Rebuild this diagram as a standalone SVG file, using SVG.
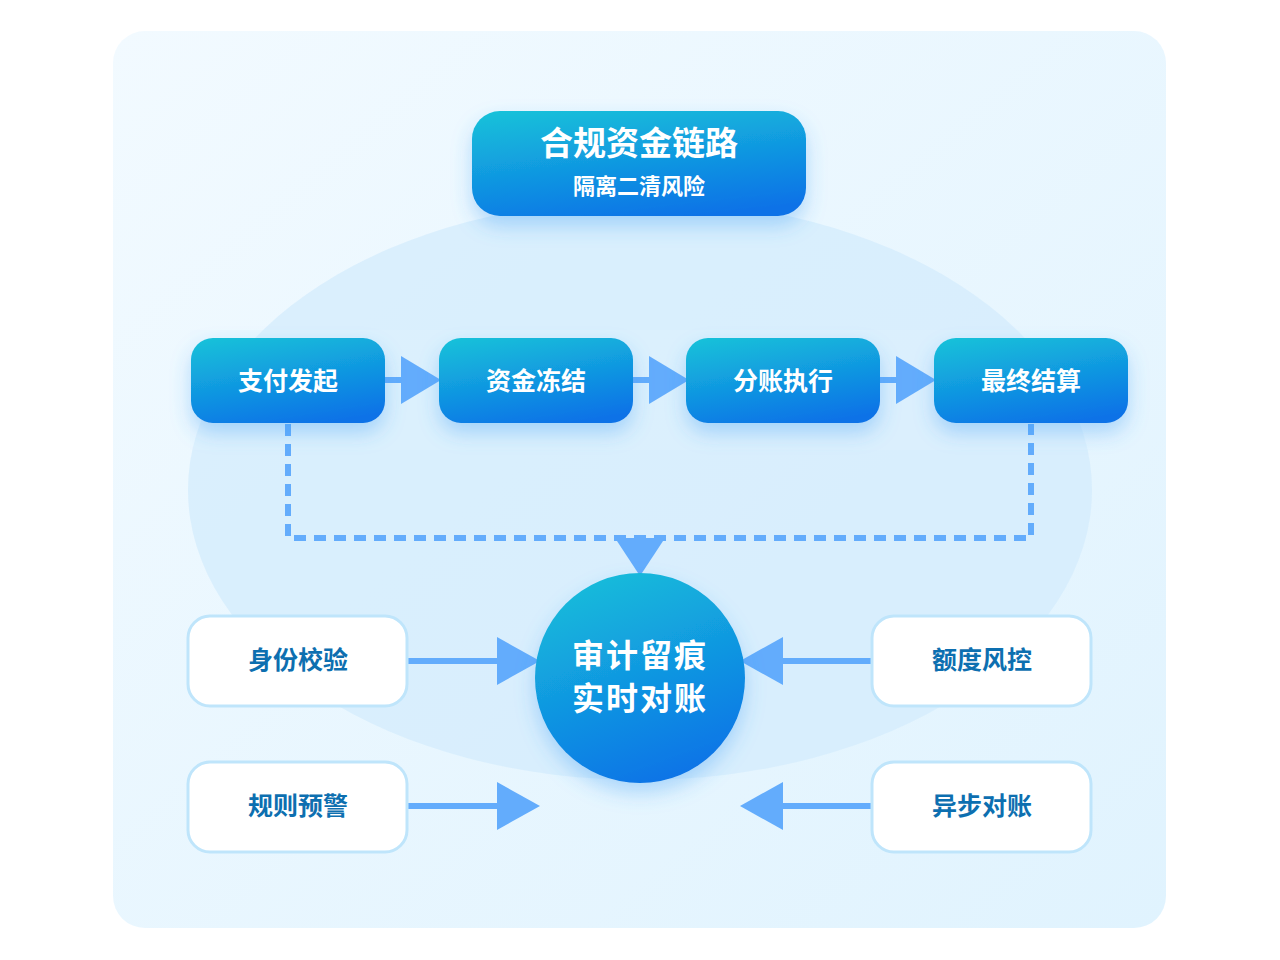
<svg xmlns="http://www.w3.org/2000/svg" width="1280" height="960" viewBox="0 0 1280 960">
<defs>
<linearGradient id="bg" x1="0" y1="0" x2="1" y2="1"><stop offset="0" stop-color="#f2faff"/><stop offset="1" stop-color="#e0f3fe"/></linearGradient>
<linearGradient id="ng" x1="0" y1="0" x2="0.4" y2="1.1"><stop offset="0" stop-color="#17c3d9"/><stop offset="1" stop-color="#0b72e7"/></linearGradient>
<filter id="sh" x="-30%" y="-30%" width="160%" height="180%"><feDropShadow dx="0" dy="10" stdDeviation="10" flood-color="#3d9cf5" flood-opacity="0.35"/></filter>
<style>
.n{fill:url(#ng);filter:url(#sh)}
.w{fill:#fff;stroke:#bfe5fb;stroke-width:3}
.t{font-family:"Noto Sans CJK SC",sans-serif;font-weight:700;fill:#fff;text-anchor:middle}
.d{font-family:"Noto Sans CJK SC",sans-serif;font-weight:700;fill:#0d6fb0;text-anchor:middle;font-size:25px}
.l{stroke:#63acfc;stroke-width:6;fill:none}
.h{fill:#63acfc}
</style>
</defs>
<rect x="113" y="31" width="1053" height="897" rx="32" fill="url(#bg)"/>
<ellipse cx="640" cy="490" rx="452" ry="290" fill="#d5ecfd" opacity="0.8"/>
<rect x="190" y="330" width="940" height="120" fill="#e2f2fe" opacity="0.25"/>
<g id="connectors">
<path class="l" d="M385 380H405M633 380H652M880 380H900"/>
<polygon class="h" points="401,356 441,380 401,404"/>
<polygon class="h" points="649,356 689,380 649,404"/>
<polygon class="h" points="896,356 936,380 896,404"/>
<path class="l" stroke-dasharray="12 8" d="M288 424V538H1031V424"/>
<polygon class="h" points="615,538 665,538 640,576"/>
<path class="l" d="M407 661H502M407 806H502M778 661H872M778 806H872"/>
<polygon class="h" points="497,637 540,661 497,685"/>
<polygon class="h" points="497,782 540,806 497,830"/>
<polygon class="h" points="783,637 740,661 783,685"/>
<polygon class="h" points="783,782 740,806 783,830"/>
</g>
<g id="top"><rect class="n" x="472" y="111" width="334" height="105" rx="28"/><text class="t" x="639" y="155" font-size="33">合规资金链路</text><text class="t" x="639" y="194" font-size="22">隔离二清风险</text></g>
<g id="n1"><rect class="n" x="191" y="338" width="194" height="85" rx="22"/><text class="t" x="288" y="390" font-size="25">支付发起</text></g>
<g id="n2"><rect class="n" x="439" y="338" width="194" height="85" rx="22"/><text class="t" x="536" y="390" font-size="25">资金冻结</text></g>
<g id="n3"><rect class="n" x="686" y="338" width="194" height="85" rx="22"/><text class="t" x="783" y="390" font-size="25">分账执行</text></g>
<g id="n4"><rect class="n" x="934" y="338" width="194" height="85" rx="22"/><text class="t" x="1031" y="390" font-size="25">最终结算</text></g>
<g id="center"><circle class="n" cx="640" cy="678" r="105"/><text class="t" x="640" y="667" font-size="32" letter-spacing="2">审计留痕</text><text class="t" x="640" y="710" font-size="32" letter-spacing="2">实时对账</text></g>
<g id="b1"><rect class="w" x="188" y="616" width="219" height="90" rx="22"/><text class="d" x="298" y="669">身份校验</text></g>
<g id="b2"><rect class="w" x="188" y="762" width="219" height="90" rx="22"/><text class="d" x="298" y="815">规则预警</text></g>
<g id="b3"><rect class="w" x="872" y="616" width="219" height="90" rx="22"/><text class="d" x="982" y="669">额度风控</text></g>
<g id="b4"><rect class="w" x="872" y="762" width="219" height="90" rx="22"/><text class="d" x="982" y="815">异步对账</text></g>
</svg>
